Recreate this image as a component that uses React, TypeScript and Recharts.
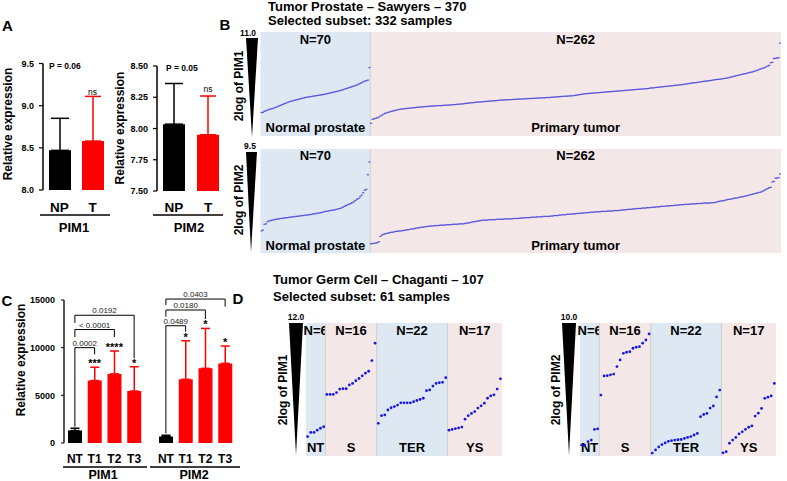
import React from 'react';
import {
  BarChart, Bar, XAxis, YAxis, ErrorBar, Cell, ReferenceLine, ReferenceDot,
  ScatterChart, Scatter, ReferenceArea,
} from 'recharts';

const W = 787;
const H = 481;
const FONT = '"Liberation Sans", Arial, Helvetica, sans-serif';
const RED = '#ff0000';
const BLUE_BG = '#dde8f3';
const PINK_BG = '#f4e7e7';

// ---- panel A: relative expression, NP vs T ----
const aGroups = ['NP', 'T'];
const aPim1Mean = [8.47, 8.58];
const aPim1Err = [0.38, 0.53];
const aPim2Mean = [8.035, 7.95];
const aPim2Err = [0.325, 0.31];
const aPim1Ticks = [8.0, 8.5, 9.0, 9.5];
const aPim2Ticks = [7.5, 7.75, 8.0, 8.25, 8.5];

// ---- panel C: relative expression by grade ----
const cGroups = ['NT', 'T1', 'T2', 'T3'];
const cTicks = [0, 5000, 10000, 15000];
const cPim1Mean = [1300, 6550, 7250, 5450];
const cPim1Err = [250, 1400, 2400, 2550];
const cPim2Mean = [680, 6680, 7830, 8350];
const cPim2Err = [130, 4040, 4190, 1820];
const cPim1BracketTo = ['T3', 'T2', 'T1'];
const cPim1BracketY = [13400, 11900, 10000];
const cPim1BracketLeftEnd = [12600, 11100, 1700];
const cPim1BracketRightEnd = [8900, 11100, 9300];
const cPim1P = ['0.0192', '< 0.0001', '0.0002'];
const cPim1Stars = ['***', '****', '*'];
const cPim2BracketTo = ['T3', 'T2', 'T1'];
const cPim2BracketY = [15100, 13950, 12300];
const cPim2BracketLeftEnd = [14480, 13250, 1000];
const cPim2BracketRightEnd = [14300, 13000, 11680];
const cPim2P = ['0.0403', '0.0180', '0.0489'];
const cPim2Stars = ['*', '*', '*'];

// ---- panel B: Sawyers prostate, sorted 2log expression ----
const bNames = ['Normal prostate', 'Primary tumor'];
const bCounts = [70, 262];
const bPim1Ticks = [7.5, 8, 8.5, 9, 9.5, 10, 10.5];
const bPim2Ticks = [7.5, 8, 8.5, 9];
const bPim1Normal = [
  7.90, 7.91, 7.95, 7.97, 8.00, 8.02, 8.04, 8.05, 8.07, 8.10,
  8.12, 8.15, 8.17, 8.20, 8.22, 8.25, 8.27, 8.30, 8.32, 8.34,
  8.35, 8.37, 8.39, 8.40, 8.42, 8.43, 8.45, 8.46, 8.48, 8.49,
  8.50, 8.51, 8.52, 8.53, 8.54, 8.55, 8.56, 8.57, 8.58, 8.59,
  8.60, 8.61, 8.63, 8.64, 8.66, 8.67, 8.68, 8.70, 8.71, 8.73,
  8.74, 8.76, 8.78, 8.80, 8.82, 8.84, 8.86, 8.88, 8.90, 8.92,
  8.94, 8.96, 8.99, 9.02, 9.05, 9.08, 9.11, 9.13, 9.15, 9.63,
];
const bPim1Tumor = [
  7.49, 7.64, 7.66, 7.68, 7.70, 7.73, 7.77, 7.80, 7.84,
  7.87, 7.89, 7.91, 7.93, 7.95, 7.96, 7.98, 7.99, 8.01, 8.02, 8.03,
  8.04, 8.05, 8.05, 8.06, 8.07, 8.07, 8.08, 8.09, 8.09, 8.10, 8.11, 8.11, 8.12, 8.12, 8.13, 8.13, 8.14, 8.14,
  8.15, 8.15, 8.16, 8.16, 8.16, 8.17, 8.17, 8.17, 8.18, 8.18, 8.18, 8.19, 8.19, 8.20, 8.20, 8.21, 8.21, 8.22, 8.22, 8.23, 8.23, 8.24,
  8.25, 8.26, 8.26, 8.27, 8.28, 8.28, 8.29, 8.30, 8.30, 8.31, 8.31, 8.32, 8.32, 8.33, 8.33, 8.34, 8.34, 8.35, 8.35, 8.36, 8.36, 8.37,
  8.38, 8.38, 8.38, 8.39, 8.39, 8.39, 8.40, 8.40, 8.40, 8.41, 8.41, 8.41, 8.42, 8.42, 8.42, 8.43, 8.43, 8.43,
  8.44, 8.44, 8.44, 8.45, 8.45, 8.45, 8.46, 8.46, 8.46, 8.47, 8.47, 8.47, 8.48, 8.48, 8.48,
  8.49, 8.49, 8.50, 8.50, 8.51, 8.51, 8.52, 8.52, 8.53, 8.53, 8.53, 8.54, 8.54, 8.55, 8.55, 8.56, 8.57, 8.58, 8.59, 8.60, 8.61, 8.62,
  8.63, 8.63, 8.64, 8.64, 8.65, 8.65, 8.66, 8.66, 8.67, 8.67, 8.68, 8.68, 8.69, 8.69, 8.70, 8.70, 8.71, 8.71, 8.72, 8.72, 8.73, 8.73,
  8.74, 8.74, 8.75, 8.75, 8.76, 8.76, 8.77, 8.77, 8.78, 8.78, 8.79, 8.79, 8.80, 8.80, 8.81, 8.81, 8.82, 8.82, 8.83, 8.84, 8.85, 8.85, 8.86,
  8.87, 8.87, 8.88, 8.89, 8.89, 8.90, 8.91, 8.91, 8.92, 8.93, 8.93, 8.94, 8.95, 8.95, 8.96, 8.97, 8.97, 8.98, 8.99, 9.00, 9.01, 9.02,
  9.03, 9.04, 9.05, 9.05, 9.06, 9.07, 9.08, 9.09, 9.10, 9.11, 9.11, 9.12, 9.13, 9.14, 9.15, 9.16, 9.17, 9.18, 9.18, 9.19, 9.20, 9.21,
  9.22, 9.23, 9.24, 9.26, 9.27, 9.29, 9.30, 9.32, 9.33, 9.35, 9.36,
  9.38, 9.39, 9.40, 9.42, 9.43, 9.45, 9.46, 9.48, 9.50, 9.52, 9.54,
  9.57, 9.59, 9.61, 9.63, 9.66, 9.69, 9.72,
  9.82, 9.83, 9.98, 9.99, 10.00, 10.01, 10.57,
];
const bPim2Normal = [
  7.53, 7.55, 7.69, 7.70, 7.75, 7.77, 7.78, 7.79, 7.80, 7.81,
  7.81, 7.82, 7.83, 7.83, 7.84, 7.84, 7.85, 7.85, 7.86, 7.86,
  7.87, 7.87, 7.88, 7.88, 7.89, 7.89, 7.90, 7.90, 7.91, 7.91,
  7.92, 7.92, 7.93, 7.94, 7.94, 7.95, 7.96, 7.96, 7.97, 7.98,
  7.99, 8.00, 8.00, 8.01, 8.02, 8.03, 8.03, 8.04, 8.05, 8.06,
  8.07, 8.08, 8.10, 8.12, 8.14, 8.16, 8.17, 8.19, 8.21, 8.23,
  8.26, 8.29, 8.31, 8.35, 8.39, 8.45, 8.51, 8.53, 8.88, 9.19,
];
const bPim2Tumor = [
  7.22, 7.23, 7.23, 7.24, 7.25, 7.27, 7.40, 7.43, 7.45,
  7.46, 7.47, 7.48, 7.49, 7.50, 7.50, 7.51, 7.52, 7.52, 7.53, 7.53, 7.54, 7.54,
  7.55, 7.56, 7.56, 7.57, 7.58, 7.58, 7.59, 7.60, 7.60, 7.61, 7.62, 7.62, 7.63, 7.63, 7.64, 7.64,
  7.65, 7.65, 7.65, 7.66, 7.66, 7.66, 7.67, 7.67, 7.67, 7.67, 7.68, 7.68, 7.68, 7.68, 7.69, 7.69, 7.69, 7.69, 7.70, 7.70, 7.70, 7.70,
  7.71, 7.72, 7.72, 7.73, 7.74, 7.75, 7.75, 7.76, 7.77, 7.77, 7.78,
  7.79, 7.79, 7.79, 7.79, 7.80, 7.80, 7.80, 7.80, 7.80, 7.81, 7.81, 7.81, 7.81, 7.81, 7.82, 7.82, 7.82, 7.82, 7.82, 7.82, 7.83, 7.83,
  7.83, 7.83, 7.84, 7.84, 7.84, 7.85, 7.85, 7.85, 7.85, 7.86, 7.86, 7.86, 7.86, 7.87, 7.87, 7.87, 7.87, 7.88, 7.88, 7.88, 7.88, 7.88,
  7.89, 7.89, 7.90, 7.90, 7.90, 7.91, 7.91, 7.92, 7.92, 7.92, 7.93, 7.93, 7.93, 7.94, 7.94, 7.94, 7.95, 7.95, 7.95, 7.96, 7.96, 7.96,
  7.97, 7.97, 7.97, 7.98, 7.98, 7.98, 7.99, 7.99, 7.99, 7.99, 8.00, 8.00, 8.00, 8.00, 8.01, 8.01, 8.01, 8.01, 8.02, 8.02, 8.02, 8.02,
  8.03, 8.03, 8.04, 8.04, 8.04, 8.05, 8.05, 8.05, 8.06, 8.06, 8.06, 8.07, 8.07, 8.07, 8.08, 8.08, 8.08, 8.09, 8.09, 8.09, 8.10, 8.10, 8.10,
  8.11, 8.11, 8.11, 8.12, 8.12, 8.12, 8.13, 8.13, 8.13, 8.14, 8.14, 8.14, 8.15, 8.15, 8.15, 8.16, 8.16, 8.16, 8.17, 8.17, 8.17, 8.17,
  8.18, 8.18, 8.18, 8.18, 8.19, 8.19, 8.19, 8.19, 8.20, 8.20, 8.20, 8.20, 8.20, 8.21, 8.21,
  8.21, 8.22, 8.23, 8.24, 8.25, 8.25, 8.26,
  8.27, 8.28, 8.29, 8.29, 8.30, 8.31, 8.32, 8.32, 8.33, 8.34, 8.35, 8.35, 8.36, 8.37, 8.38,
  8.39, 8.40, 8.41, 8.42, 8.43, 8.44, 8.45, 8.46, 8.47, 8.49, 8.51, 8.53, 8.55,
  8.57, 8.58, 8.71, 8.72, 8.80, 8.80, 8.81, 8.90,
];

// ---- panel D: Chaganti germ cell, sorted 2log expression ----
const dNames = ['NT', 'S', 'TER', 'YS'];
const dCounts = [6, 16, 22, 17];
const dPim1Ticks = [9, 9.5, 10, 10.5, 11, 11.5];
const dPim2Ticks = [5.5, 6, 6.5, 7, 7.5, 8, 8.5, 9, 9.5];
const dPim1NT = [9.01, 9.12, 9.12, 9.18, 9.23, 9.27];
const dPim1S = [10.12, 10.12, 10.12, 10.17, 10.26, 10.27, 10.27, 10.37, 10.41, 10.48, 10.54, 10.61, 10.68, 10.73, 11.01, 11.47];
const dPim1TER = [9.36, 9.56, 9.58, 9.71, 9.77, 9.80, 9.84, 9.90, 9.90, 9.90, 9.90, 9.93, 9.96, 9.99, 10.02, 10.22, 10.24, 10.34, 10.41, 10.43, 10.44, 10.56];
const dPim1YS = [9.18, 9.20, 9.22, 9.24, 9.26, 9.47, 9.56, 9.62, 9.67, 9.76, 9.82, 9.89, 10.02, 10.08, 10.11, 10.26, 10.53];
const dPim2NT = [5.41, 5.41, 5.54, 5.60, 6.00, 6.02];
const dPim2S = [7.29, 8.01, 8.02, 8.05, 8.08, 8.36, 8.61, 8.86, 8.90, 8.92, 9.05, 9.09, 9.11, 9.24, 9.36, 9.59];
const dPim2TER = [5.11, 5.23, 5.34, 5.43, 5.49, 5.55, 5.58, 5.60, 5.61, 5.62, 5.66, 5.70, 5.73, 5.79, 5.85, 6.48, 6.56, 6.60, 6.80, 6.88, 7.22, 7.48];
const dPim2YS = [5.12, 5.16, 5.48, 5.60, 5.70, 5.83, 5.91, 6.00, 6.08, 6.13, 6.50, 6.61, 6.79, 7.17, 7.21, 7.26, 7.73];

const layer: React.CSSProperties = { position: 'absolute', left: 0, top: 0, width: W, height: H };

type Box = { l: number; t: number; r: number; b: number };

const boldTick = (size: number) => ({ fontSize: size, fontWeight: 700, fill: '#000', fontFamily: FONT });

function ExprBars({ box, domain, ticks, digits, mean, err, gap }: {
  box: Box; domain: [number, number]; ticks: number[]; digits: number; mean: number[]; err: number[]; gap: number;
}) {
  const data = aGroups.map((g, i) => ({
    g,
    v: mean[i],
    eBlack: i === 0 ? [0, err[i]] : undefined,
    eRed: i === 1 ? [0, err[i]] : undefined,
  }));
  return (
    <div style={layer}>
      <BarChart width={W} height={H} data={data}
        margin={{ left: box.l - 40, top: box.t, right: W - box.r, bottom: H - box.b - 30 }}>
        <XAxis dataKey="g" height={30} interval={0} axisLine={false} tickLine={false}
          tickSize={0} tickMargin={gap} tick={boldTick(13.5)} />
        <YAxis width={40} type="number" domain={domain} ticks={ticks} interval={0} allowDataOverflow
          tickFormatter={(t: number) => t.toFixed(digits)}
          axisLine={{ stroke: '#000', strokeWidth: 1.5 }} tickLine={{ stroke: '#000', strokeWidth: 1.2 }}
          tickSize={4} tickMargin={5} tick={boldTick(9)} />
        <Bar dataKey="v" barSize={22} isAnimationActive={false}>
          {data.map((d, i) => <Cell key={d.g} fill={i === 0 ? '#000' : RED} />)}
          <ErrorBar dataKey="eBlack" direction="y" width={9} stroke="#000" strokeWidth={1.5} isAnimationActive={false} />
          <ErrorBar dataKey="eRed" direction="y" width={8} stroke={RED} strokeWidth={1.5} isAnimationActive={false} />
        </Bar>
      </BarChart>
    </div>
  );
}

function GradeBars({ box, labels, mean, err, to, ys, leftEnd, rightEnd, pv, stars }: {
  box: Box; labels: boolean; mean: number[]; err: number[]; to: string[]; ys: number[];
  leftEnd: number[]; rightEnd: number[]; pv: string[]; stars: string[];
}) {
  const data = cGroups.map((g, i) => ({
    g,
    v: mean[i],
    eBlack: i === 0 ? [0, err[i]] : undefined,
    eRed: i > 0 ? [0, err[i]] : undefined,
  }));
  const yw = labels ? 50 : 0;
  const line = { stroke: '#000', strokeWidth: 1, ifOverflow: 'visible' as const };
  return (
    <div style={layer}>
      <BarChart width={W} height={H} data={data}
        margin={{ left: box.l - yw, top: box.t, right: W - box.r, bottom: H - box.b - 30 }}>
        <XAxis dataKey="g" height={30} interval={0} padding={{ left: 1, right: 1 }} axisLine={false}
          tickLine={false} tickSize={0} tickMargin={11} tick={boldTick(12)} />
        <YAxis width={yw} type="number" domain={[0, 15000]} ticks={cTicks} interval={0} allowDataOverflow
          axisLine={{ stroke: '#000', strokeWidth: 1.3 }} tickLine={{ stroke: '#000' }}
          tickSize={3} tickMargin={6} tick={labels ? boldTick(9) : false} />
        <Bar dataKey="v" barSize={14} isAnimationActive={false}>
          {data.map((d, i) => <Cell key={d.g} fill={i === 0 ? '#000' : RED} />)}
          <ErrorBar dataKey="eBlack" direction="y" width={4.5} stroke="#000" strokeWidth={1.5} isAnimationActive={false} />
          <ErrorBar dataKey="eRed" direction="y" width={4.5} stroke={RED} strokeWidth={1.5} isAnimationActive={false} />
        </Bar>
        {to.map((t, i) => (
          <ReferenceLine key={'h' + t} segment={[{ x: 'NT', y: ys[i] }, { x: t, y: ys[i] }]} {...line}
            label={{ value: pv[i], position: 'top', offset: 2, fontSize: 8, fill: '#222', fontFamily: FONT }} />
        ))}
        {to.map((t, i) => (
          <ReferenceLine key={'l' + t} segment={[{ x: 'NT', y: ys[i] }, { x: 'NT', y: leftEnd[i] }]} {...line} />
        ))}
        {to.map((t, i) => (
          <ReferenceLine key={'r' + t} segment={[{ x: t, y: ys[i] }, { x: t, y: rightEnd[i] }]} {...line} />
        ))}
        {stars.map((s, i) => (
          <ReferenceDot key={'s' + i} x={cGroups[i + 1]} y={mean[i + 1] + err[i + 1]} r={0}
            fill="none" stroke="none" ifOverflow="visible"
            label={{ value: s, position: 'top', offset: 0, fontSize: 11, fontWeight: 700, fill: '#000', fontFamily: FONT }} />
        ))}
      </BarChart>
    </div>
  );
}

const bDash = (p: any) => <rect x={p.cx - 1.1} y={p.cy - 0.6} width={2.2} height={1.2} fill="#5555dc" />;
const dDot = (p: any) => <circle cx={p.cx} cy={p.cy} r={1.4} fill="#1818e0" />;

function regionLabel(n: number, name: string, topGap: number, bottomGap: number) {
  return (props: any) => {
    const { x, y, width, height } = props.viewBox;
    const cx = x + width / 2;
    const st = { fontSize: 13, fontWeight: 700, fill: '#000', fontFamily: FONT, textAnchor: 'middle' as const };
    return (
      <g>
        <text x={cx} y={y + topGap} {...st}>{`N=${n}`}</text>
        <text x={cx} y={y + height - bottomGap} {...st}>{name}</text>
      </g>
    );
  };
}

function StripPlot({ box, domain, ticks, counts, names, groups, shape, topGap, bottomGap }: {
  box: Box; domain: [number, number]; ticks: number[]; counts: number[]; names: string[];
  groups: number[][]; shape: (p: any) => React.ReactElement; topGap: number; bottomGap: number;
}) {
  const total = counts.reduce((a, b) => a + b, 0);
  const points: { x: number; v: number }[] = [];
  let k = 0;
  groups.forEach((vals) => vals.forEach((v) => { points.push({ x: k + 0.5, v }); k += 1; }));
  const starts = counts.map((_, i) => counts.slice(0, i).reduce((a, b) => a + b, 0));
  return (
    <div style={layer}>
      <ScatterChart width={W} height={H}
        margin={{ left: box.l, top: box.t, right: W - box.r, bottom: H - box.b }}>
        <XAxis type="number" dataKey="x" domain={[0, total]} allowDataOverflow height={0}
          tick={false} tickLine={false} axisLine={{ stroke: '#d0d0d0' }} />
        <YAxis type="number" dataKey="v" domain={domain} ticks={ticks} interval={0} allowDataOverflow width={0}
          tick={false} tickSize={3} tickLine={{ stroke: '#999' }} axisLine={{ stroke: '#999' }} />
        {counts.map((n, i) => (
          <ReferenceArea key={names[i]} x1={starts[i]} x2={starts[i] + n} fill={i % 2 === 0 ? BLUE_BG : PINK_BG}
            fillOpacity={1} stroke="none" label={regionLabel(n, names[i], topGap, bottomGap)} />
        ))}
        {starts.slice(1).map((s) => <ReferenceLine key={s} x={s} stroke="#cdcdcd" />)}
        <Scatter data={points} dataKey="v" shape={shape} isAnimationActive={false} />
      </ScatterChart>
    </div>
  );
}

function Txt({ x, y, s, w = 700, a = 'middle', rot = false, fill = '#000', children }: {
  x: number; y: number; s: number; w?: number; a?: 'start' | 'middle' | 'end'; rot?: boolean; fill?: string; children: React.ReactNode;
}) {
  return (
    <text x={x} y={y} fontSize={s} fontWeight={w} textAnchor={a} dominantBaseline="central" fontFamily={FONT}
      fill={fill} transform={rot ? `rotate(-90 ${x} ${y})` : undefined}>{children}</text>
  );
}

function Overlay() {
  return (
    <svg width={W} height={H} style={{ ...layer, pointerEvents: 'none' }}>
      {/* A */}
      <Txt x={7.5} y={25} s={15}>A</Txt>
      <Txt x={8} y={124} s={12} rot>Relative expression</Txt>
      <Txt x={120} y={128} s={12} rot>Relative expression</Txt>
      <Txt x={49} y={66} s={8.5} a="start">P = 0.06</Txt>
      <Txt x={166} y={68} s={8.5} a="start">P = 0.05</Txt>
      <Txt x={92.5} y={91.5} s={8.5} w={400}>ns</Txt>
      <Txt x={208} y={89} s={8.5} w={400}>ns</Txt>
      <line x1={40} x2={110} y1={215} y2={215} stroke="#000" strokeWidth={1.5} />
      <line x1={153} x2={223} y1={215} y2={215} stroke="#000" strokeWidth={1.5} />
      <Txt x={74} y={227} s={13}>PIM1</Txt>
      <Txt x={189} y={227} s={13}>PIM2</Txt>

      {/* B */}
      <Txt x={225} y={24} s={15}>B</Txt>
      <Txt x={268} y={6} s={13} a="start">Tumor Prostate – Sawyers – 370</Txt>
      <Txt x={268} y={20.5} s={13} a="start">Selected subset: 332 samples</Txt>
      <Txt x={248} y={33} s={8.5}>11.0</Txt>
      <polygon points="246,38 258,38 252,137" fill="#000" />
      <Txt x={239} y={86} s={12} rot>2log of PIM1</Txt>
      <Txt x={250} y={146} s={8.5}>9.5</Txt>
      <polygon points="246,152 257,152 251,252" fill="#000" />
      <Txt x={239} y={200} s={12} rot>2log of PIM2</Txt>

      {/* C */}
      <Txt x={7} y={300} s={15}>C</Txt>
      <Txt x={21} y={360} s={12} rot>Relative expression</Txt>
      <line x1={63} x2={147} y1={467} y2={467} stroke="#000" strokeWidth={1.5} />
      <line x1={150} x2={240} y1={467} y2={467} stroke="#000" strokeWidth={1.5} />
      <Txt x={103} y={474.5} s={12.5}>PIM1</Txt>
      <Txt x={194} y={474.5} s={12.5}>PIM2</Txt>

      {/* D */}
      <Txt x={238} y={298} s={15}>D</Txt>
      <Txt x={273} y={279} s={13} a="start">Tumor Germ Cell – Chaganti – 107</Txt>
      <Txt x={273} y={296} s={13} a="start">Selected subset: 61 samples</Txt>
      <Txt x={296} y={317} s={8.5}>12.0</Txt>
      <polygon points="289,323 303,323 296,455" fill="#000" />
      <Txt x={283} y={390} s={12} rot>2log of PIM1</Txt>
      <Txt x={569} y={317} s={8.5}>10.0</Txt>
      <polygon points="562,323 576,323 569,455" fill="#000" />
      <Txt x={556} y={390} s={12} rot>2log of PIM2</Txt>
    </svg>
  );
}

export default function App() {
  return (
    <div style={{ position: 'absolute', left: 0, top: 0, width: W, height: H, background: '#fff', overflow: 'hidden', fontFamily: FONT }}>
      <ExprBars box={{ l: 43, t: 63.5, r: 109, b: 190 }} domain={[8, 9.5]} ticks={aPim1Ticks} digits={1}
        mean={aPim1Mean} err={aPim1Err} gap={12} />
      <ExprBars box={{ l: 157, t: 66, r: 225, b: 191 }} domain={[7.5, 8.5]} ticks={aPim2Ticks} digits={2}
        mean={aPim2Mean} err={aPim2Err} gap={11} />
      <GradeBars box={{ l: 64, t: 300, r: 145, b: 443 }} labels mean={cPim1Mean} err={cPim1Err}
        to={cPim1BracketTo} ys={cPim1BracketY} leftEnd={cPim1BracketLeftEnd} rightEnd={cPim1BracketRightEnd}
        pv={cPim1P} stars={cPim1Stars} />
      <GradeBars box={{ l: 155, t: 300, r: 236, b: 443 }} labels={false} mean={cPim2Mean} err={cPim2Err}
        to={cPim2BracketTo} ys={cPim2BracketY} leftEnd={cPim2BracketLeftEnd} rightEnd={cPim2BracketRightEnd}
        pv={cPim2P} stars={cPim2Stars} />
      <StripPlot box={{ l: 260.5, t: 32, r: 781, b: 136 }} domain={[7, 11]} ticks={bPim1Ticks}
        counts={bCounts} names={bNames} groups={[bPim1Normal, bPim1Tumor]} shape={bDash} topGap={12} bottomGap={4.5} />
      <StripPlot box={{ l: 260.5, t: 149, r: 781, b: 253 }} domain={[7, 9.5]} ticks={bPim2Ticks}
        counts={bCounts} names={bNames} groups={[bPim2Normal, bPim2Tumor]} shape={bDash} topGap={11} bottomGap={3} />
      <StripPlot box={{ l: 306, t: 323, r: 502, b: 456 }} domain={[8.5, 12]} ticks={dPim1Ticks}
        counts={dCounts} names={dNames} groups={[dPim1NT, dPim1S, dPim1TER, dPim1YS]} shape={dDot} topGap={11.5} bottomGap={4.5} />
      <StripPlot box={{ l: 580, t: 323, r: 776, b: 456 }} domain={[5, 10]} ticks={dPim2Ticks}
        counts={dCounts} names={dNames} groups={[dPim2NT, dPim2S, dPim2TER, dPim2YS]} shape={dDot} topGap={11.5} bottomGap={4.5} />
      <Overlay />
    </div>
  );
}
